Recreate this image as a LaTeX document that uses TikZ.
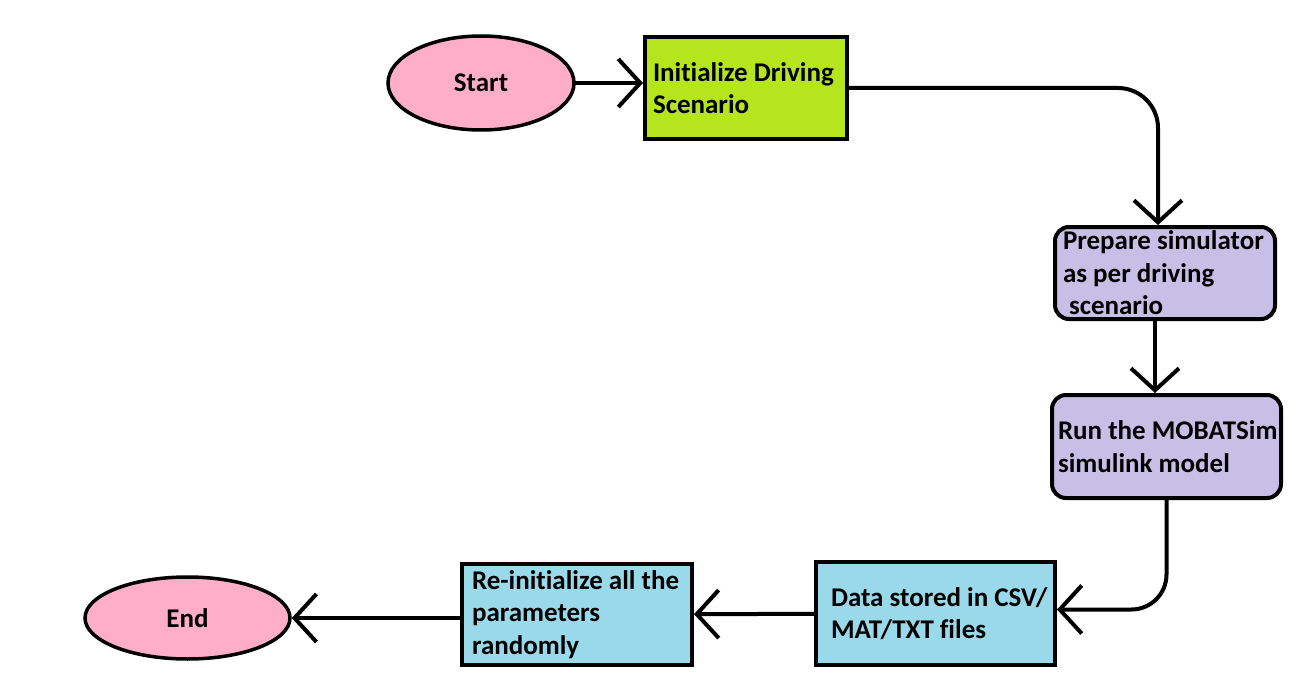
\documentclass[tikz,border=0pt]{standalone}
\usepackage{fontspec}
\setmainfont{Carlito}[Ligatures=NoCommon]
\usepackage{xcolor}
\usepackage{tikz}
\usetikzlibrary{arrows.meta, calc, shapes.geometric}
\definecolor{TermPink}{HTML}{FFAEC9}
\definecolor{InitLime}{HTML}{B5E61D}
\definecolor{SimLavender}{HTML}{C8BFE7}
\definecolor{DataCyan}{HTML}{99D9EA}
\newcommand{\flowfont}{\fontsize{27}{32.5}\selectfont\bfseries}
\newcommand{\fline}[1]{\mbox{\spaceskip=0pt\xspaceskip=0pt\relax #1}}

\begin{document}
\begin{tikzpicture}[x=1pt, y=-1pt, line cap=round,
	term/.style={ellipse, draw, line width=3.5pt, fill=TermPink, inner sep=0pt, font=\flowfont},
	block/.style={rectangle, draw, line width=4pt, align=left, inner ysep=0pt, font=\flowfont},
	rblock/.style={block, rounded corners=14pt},
	flow/.style={line width=4pt, -{Straight Barb[length=22pt, width=48pt]}}]

	\useasboundingbox (0,0) rectangle (1302,698);

	% terminals
	\node[term, minimum width=186pt, minimum height=94pt] (start) at (481,83) {Start};
	\node[term, minimum width=205pt, minimum height=82pt] (end) at (187.5,618) {End};

	% process boxes
	\node[block, fill=InitLime, inner xsep=8pt, text width=186pt, minimum height=102pt] (init) at (746,88) {\fline{Initialize Driving}\\\fline{Scenario}};
	\node[rblock, fill=SimLavender, inner xsep=8pt, text width=204pt, minimum height=92pt] (prep) at (1165,273) {\fline{Prepare simulator}\\\fline{as per driving}\\\fline{\hspace*{6pt}scenario}};
	\node[rblock, fill=SimLavender, inner xsep=6pt, text width=217pt, minimum height=103pt] (run) at (1166.5,446.5) {\fline{Run the MOBATSim}\\\fline{simulink model}};
	\node[block, fill=DataCyan, inner xsep=15pt, text width=209pt, minimum height=103pt] (data) at (935.5,613.5) {\fline{Data stored in CSV/}\\\fline{MAT/TXT files}};
	\node[block, fill=DataCyan, inner xsep=10pt, text width=210pt, minimum height=101pt] (reinit) at (577,614.5) {\fline{Re-initialize all the}\\\fline{parameters}\\\fline{randomly}};

	\coordinate (prepout) at ([xshift=-10pt]prep.south);

	\draw[flow] (start.east) -- (start.east -| init.west);
	\draw[flow, rounded corners=40pt] (init.east) -| ([xshift=-7pt]prep.north);
	\draw[flow] (prepout) -- (prepout |- run.north);
	\draw[flow, rounded corners=35pt] (run.south) |- ([yshift=4pt]data.east);
	\draw[flow] (data) -- (reinit);
	\draw[flow] (reinit.west |- end.east) -- (end.east);

\end{tikzpicture}
\end{document}
